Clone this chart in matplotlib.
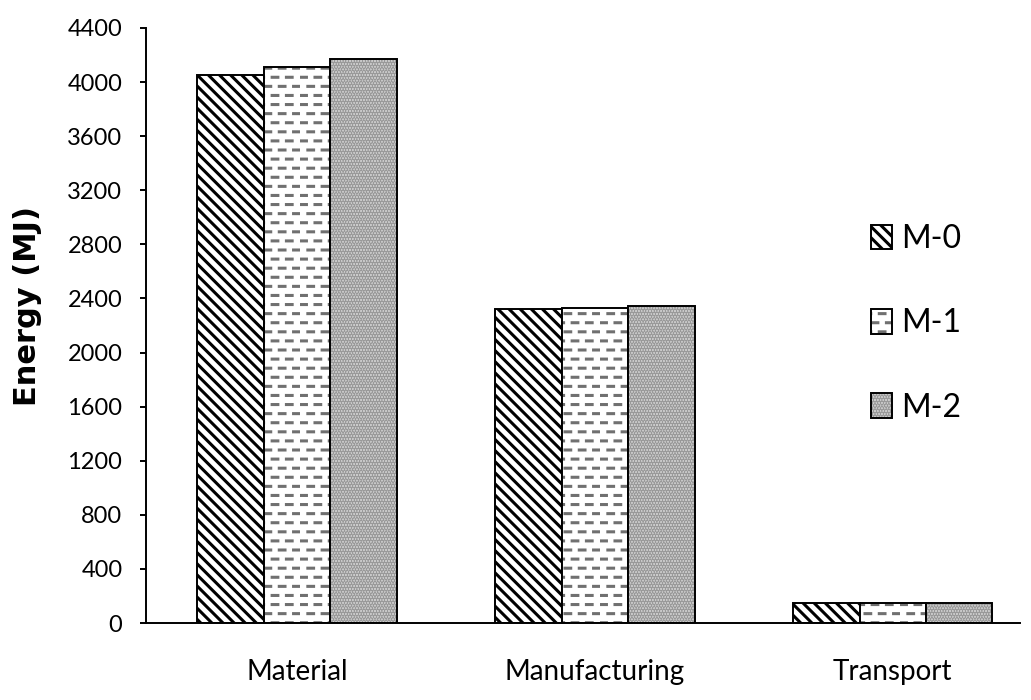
import numpy as np
import matplotlib.pyplot as plt
import matplotlib.hatch as mhatch
from matplotlib.legend_handler import HandlerTuple

plt.rcParams['font.family'] = ['Lato', 'DejaVu Sans']
plt.rcParams['hatch.linewidth'] = 2.2

categories = ["Material", "Manufacturing", "Transport"]
series = ["M-0", "M-1", "M-2"]
m0 = [4050, 2320, 150]
m1 = [4110, 2330, 150]
m2 = [4170, 2345, 150]


# staggered short horizontal dashes, like the Excel "dashed horizontal" fill
class DashHatch(mhatch.HatchPatternBase):
    def __init__(self, hatch, density):
        self.rows = hatch.count('_') * 11
        self.cols = 7
        self.num_vertices = self.rows * self.cols * 2

    def set_vertices_and_codes(self, vertices, codes):
        k = 0
        for i in range(self.rows):
            y = (i + 0.5) / self.rows
            off = (i % 2) * 0.5 / self.cols
            for j in range(self.cols):
                x0 = j / self.cols + off + 0.05 / self.cols
                vertices[k] = (x0, y)
                vertices[k + 1] = (x0 + 0.4 / self.cols, y)
                codes[k] = mhatch.Path.MOVETO
                codes[k + 1] = mhatch.Path.LINETO
                k += 2


mhatch._hatch_types.append(DashHatch)

fig = plt.figure(figsize=(10.31, 7.0), dpi=100)
ax = fig.add_axes([0.1416, 0.11, 0.848, 0.85])

x = np.arange(len(categories))
w = 0.223
h0 = ax.bar(x - w, m0, w, facecolor='white', edgecolor='black',
            linewidth=1.4, hatch='\\\\\\')
h1a = ax.bar(x, m1, w, facecolor='white', edgecolor='#707070',
             linewidth=0, hatch='_')
h1b = ax.bar(x, m1, w, facecolor='none', edgecolor='black', linewidth=1.4)
h2a = ax.bar(x + w, m2, w, facecolor='#d0d0d0', edgecolor='#999999',
             linewidth=0, hatch='......')
h2b = ax.bar(x + w, m2, w, facecolor='none', edgecolor='black',
             linewidth=1.4)

ax.set_xlim(-0.507, 2.428)
ax.set_ylim(0, 4400)
ax.set_yticks(np.arange(0, 4401, 400))
ax.tick_params(axis='y', labelsize=17, length=4, width=1.4,
               direction='out', pad=13)
ax.set_xticks(x)
ax.set_xticklabels(categories, fontsize=20)
ax.tick_params(axis='x', length=0, pad=26)
for s in ['top', 'right']:
    ax.spines[s].set_visible(False)
ax.spines['left'].set_linewidth(1.4)
ax.spines['bottom'].set_linewidth(1.4)
fig.text(0.027, 0.563, "Energy (MJ)", rotation=90, ha='center', va='center',
         fontsize=22, fontweight='bold', family=['DejaVu Sans'])

fig.legend([h0, (h1a, h1b), (h2a, h2b)], series,
           handler_map={tuple: HandlerTuple(ndivide=1, pad=0)},
           loc='center left', bbox_to_anchor=(0.845, 0.538),
           frameon=False, fontsize=23, labelspacing=1.7,
           handlelength=0.65, handleheight=0.8, handletextpad=0.3,
           borderpad=0, borderaxespad=0)

fig.savefig("out.png", dpi=100)
